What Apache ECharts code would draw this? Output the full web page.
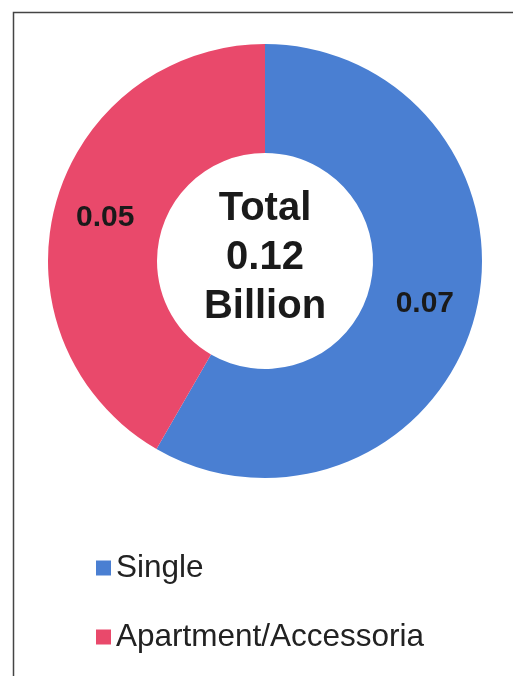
<!DOCTYPE html>
<html>
<head>
<meta charset="utf-8">
<script src="https://cdn.jsdelivr.net/npm/echarts@6/dist/echarts.min.js"></script>
<style>
html,body{margin:0;padding:0;background:#fff;}
#main{width:513px;height:676px;}
</style>
</head>
<body>
<div id="main"></div>
<script>
const categories = ['Single', 'Apartment/Accessoria'];
const values = [0.07, 0.05];
const colors = ['#4A7FD2', '#E9496B'];
const totalLabel = ['Total', 'Billion'];

const total = values.reduce((a, b) => a + b, 0);
const chart = echarts.init(document.getElementById('main'));
chart.setOption({
  backgroundColor: '#ffffff',
  animation: false,
  color: colors,
  legend: {
    orient: 'vertical',
    left: 91,
    top: 547,
    itemWidth: 15,
    itemHeight: 15,
    itemGap: 37,
    icon: 'rect',
    textStyle: { fontFamily: 'Liberation Sans, Arial, sans-serif', fontSize: 31.5, color: '#222' },
    data: categories
  },
  graphic: [
    {
      type: 'rect',
      shape: { x: 13.5, y: 12.5, width: 520, height: 700 },
      style: { fill: 'none', stroke: '#444', lineWidth: 1.5 },
      silent: true
    },
    {
      type: 'text',
      x: 265,
      y: 258,
      style: {
        text: totalLabel[0] + '\n' + total.toFixed(2) + '\n' + totalLabel[1],
        fontFamily: 'Liberation Sans, Arial, sans-serif',
        fontSize: 40,
        fontWeight: 'bold',
        lineHeight: 49,
        fill: '#1a1a1a',
        align: 'center',
        verticalAlign: 'middle'
      },
      z: 10
    }
  ],
  series: [{
    type: 'pie',
    center: [265, 261],
    radius: [108, 217],
    startAngle: 90,
    clockwise: true,
    label: {
      show: true,
      position: 'inside',
      formatter: p => p.value.toFixed(2),
      fontFamily: 'Liberation Sans, Arial, sans-serif',
      fontSize: 30,
      fontWeight: 'bold',
      color: '#1a1a1a'
    },
    labelLine: { show: false },
    itemStyle: { borderWidth: 0 },
    emphasis: { disabled: true },
    data: categories.map((c, i) => ({ name: c, value: values[i] }))
  }]
});
</script>
</body>
</html>
